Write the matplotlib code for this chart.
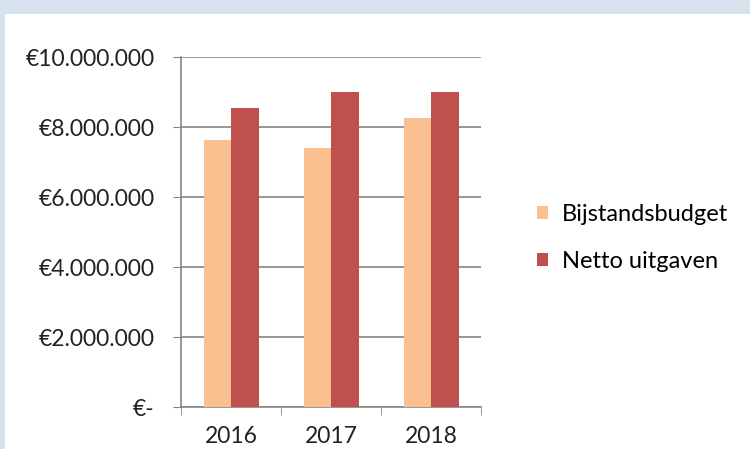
import numpy as np
import matplotlib.pyplot as plt
from matplotlib.patches import Rectangle
from matplotlib.ticker import FuncFormatter, FixedLocator

# data
years = ['2016', '2017', '2018']
bijstandsbudget = [7630000, 7400000, 8270000]
netto_uitgaven = [8550000, 9000000, 9000000]

light = '#FAC090'
dark = '#C0504D'
grid_col = '#868686'

plt.rcParams['font.family'] = ['Lato', 'DejaVu Sans']

fig = plt.figure(figsize=(7.5, 4.49), dpi=100)
fig.patch.set_facecolor('white')

# light blue frame at top and left
fig.patches.append(Rectangle((0, 1 - 14 / 449), 1, 14 / 449, transform=fig.transFigure,
                             facecolor='#D6E2EE', edgecolor='none', zorder=0))
fig.patches.append(Rectangle((0, 0), 5 / 750, 1, transform=fig.transFigure,
                             facecolor='#D6E2EE', edgecolor='none', zorder=0))

ax = fig.add_axes([181 / 750, 1 - 407 / 449, 300 / 750, 350 / 449])

x = np.arange(len(years))
w = 0.275
ax.bar(x - w / 2, bijstandsbudget, w, color=light, label='Bijstandsbudget', zorder=3)
ax.bar(x + w / 2, netto_uitgaven, w, color=dark, label='Netto uitgaven', zorder=3)

ax.set_xlim(-0.5, 2.5)
ax.set_ylim(0, 10000000)
ax.set_yticks(np.arange(0, 10000001, 2000000))


def euro(v, pos):
    if v == 0:
        return '€-'
    return '€' + f'{int(v):,}'.replace(',', '.')


ax.yaxis.set_major_formatter(FuncFormatter(euro))
ax.grid(axis='y', color=grid_col, linewidth=1.2, zorder=0)

ax.set_xticks(x)
ax.set_xticklabels(years)
ax.xaxis.set_minor_locator(FixedLocator([-0.5, 0.5, 1.5, 2.5]))
ax.tick_params(axis='x', which='major', length=0, pad=14, labelsize=16.5, colors='#222222')
ax.tick_params(axis='x', which='minor', length=6, color=grid_col, direction='out')
ax.tick_params(axis='y', length=6, color=grid_col, pad=13, labelsize=16.5, colors='#222222')

for s in ['top', 'right']:
    ax.spines[s].set_visible(False)
for s in ['left', 'bottom']:
    ax.spines[s].set_color(grid_col)
    ax.spines[s].set_linewidth(1.2)

leg = fig.legend(loc='upper left', bbox_to_anchor=(516 / 750, 1 - 183 / 449), frameon=False,
                 fontsize=17, handlelength=0.45, handleheight=0.45, handletextpad=0.6,
                 labelspacing=1.1)

fig.savefig('out.png', dpi=100)
